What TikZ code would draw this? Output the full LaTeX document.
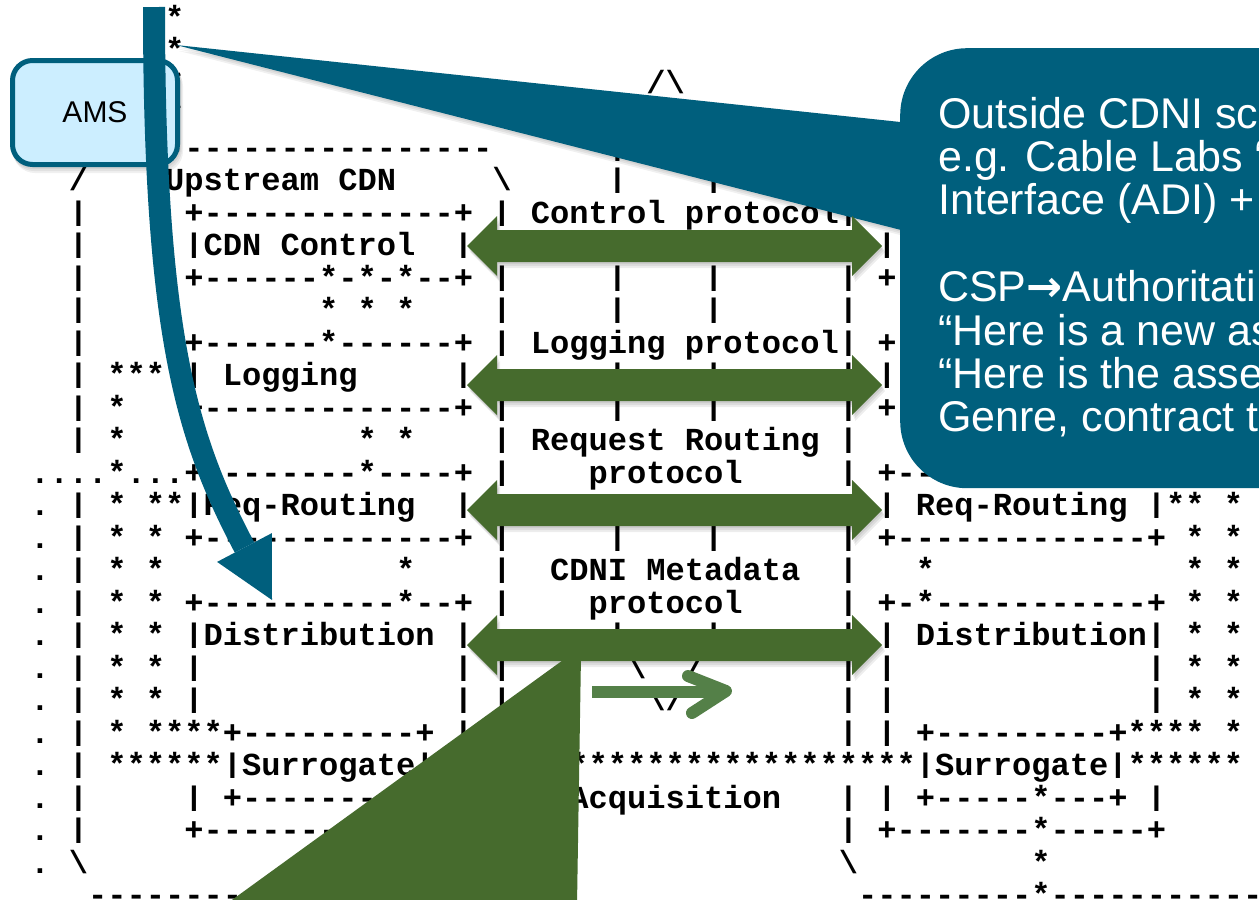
\documentclass[tikz,border=0pt]{standalone}
\usepackage{graphicx}
\usepackage{fontspec}
\setmainfont{Liberation Sans}
\setmonofont{Liberation Mono}
\newfontfamily\arrowfont{DejaVu Sans}
\definecolor{cblue}{RGB}{0,95,125}
\definecolor{cgreen}{RGB}{70,107,45}
\definecolor{lgreen}{RGB}{84,128,72}
\definecolor{amsfill}{RGB}{204,238,255}
\newcommand\bsl{\textbackslash}
\newcommand\VB{\raisebox{0.085em}{\scalebox{1}[0.84]{|}}}
\newcommand\AT[3]{\node[ascii] at ({30.375+19.25*(#1)},{28+32.5*(#2)}) {#3};}
\newcommand\garrow[2]{%
  \foreach \s in {1,2,3}{\fill[black,opacity=0.07,shift={(\s,2*\s)}] (467,#2) -- (497,{#2-30}) -- (497,{#2-16}) -- (852,{#2-16}) -- (852,{#2-30}) -- (882,#2) -- (852,{#2+30}) -- (852,{#2+16}) -- (497,{#2+16}) -- (497,{#2+30}) -- cycle;}
  \fill[cgreen] (467,#2) coordinate (#1-l) -- (497,{#2-30}) -- (497,{#2-16}) -- (852,{#2-16}) -- (852,{#2-30}) -- (882,#2) coordinate (#1-r) -- (852,{#2+30}) -- (852,{#2+16}) -- (497,{#2+16}) -- (497,{#2+30}) -- cycle;}
\tikzset{
  ascii/.style={font=\ttfamily\bfseries\fontsize{32.08}{32.5}\selectfont, anchor=base west, inner sep=0pt, outer sep=0pt, text=black},
  calltext/.style={font=\fontsize{43}{43.4}\selectfont, text=white, anchor=base west, inner sep=0pt},
  amsbox/.style={draw=cblue, line width=5pt, fill=amsfill, rounded corners=20pt, minimum width=165pt, minimum height=104pt, inner sep=0pt, font=\fontsize{30}{32}\selectfont, text=black},
}
\begin{document}
\begin{tikzpicture}[x=1pt,y=-1pt]
\useasboundingbox (0,0) rectangle (1259,900);
\begin{scope}
\clip (0,0) rectangle (1259,900);
\fill[white] (0,0) rectangle (1259,900);
% ---------------- ASCII art ----------------
\AT{7}{0}{*}
\AT{7}{1}{*}
\AT{7}{2}{*} \AT{32}{2}{/\bsl}
\AT{7}{3}{*} \AT{31}{3}{/} \AT{34}{3}{\bsl}
\AT{3}{4}{---------------------} \AT{30}{4}{\VB} \AT{35}{4}{\VB}
\AT{2}{5}{/} \AT{7}{5}{Upstream~CDN} \AT{24}{5}{\bsl} \AT{30}{5}{\VB} \AT{35}{5}{\VB}
\AT{2}{6}{\VB} \AT{8}{6}{+-------------+} \AT{24}{6}{\VB} \AT{26}{6}{Control~protocol} \AT{42}{6}{\VB} \AT{44}{6}{+-}
\AT{2}{7}{\VB} \AT{8}{7}{\VB{}CDN~Control~~\VB} \AT{44}{7}{\VB}
\AT{2}{8}{\VB} \AT{8}{8}{+------*-*-*--+} \AT{24}{8}{\VB} \AT{30}{8}{\VB} \AT{35}{8}{\VB} \AT{42}{8}{\VB} \AT{44}{8}{+-}
\AT{2}{9}{\VB} \AT{15}{9}{*~*~*} \AT{24}{9}{\VB} \AT{30}{9}{\VB} \AT{35}{9}{\VB} \AT{42}{9}{\VB}
\AT{2}{10}{\VB} \AT{8}{10}{+------*------+} \AT{24}{10}{\VB} \AT{26}{10}{Logging~protocol} \AT{42}{10}{\VB} \AT{44}{10}{+-}
\AT{2}{11}{\VB} \AT{4}{11}{***~\VB{}~Logging} \AT{22}{11}{\VB} \AT{30}{11}{\VB} \AT{35}{11}{\VB} \AT{42}{11}{\VB} \AT{44}{11}{\VB}
\AT{2}{12}{\VB} \AT{4}{12}{*} \AT{8}{12}{+-------------+} \AT{24}{12}{\VB} \AT{30}{12}{\VB} \AT{35}{12}{\VB} \AT{42}{12}{\VB} \AT{44}{12}{+-}
\AT{2}{13}{\VB} \AT{4}{13}{*} \AT{17}{13}{*~*} \AT{24}{13}{\VB} \AT{26}{13}{Request~Routing} \AT{42}{13}{\VB}
\AT{0}{14}{....*...+--------*----+} \AT{24}{14}{\VB} \AT{29}{14}{protocol} \AT{42}{14}{\VB} \AT{44}{14}{+--}
\AT{0}{15}{.} \AT{2}{15}{\VB} \AT{4}{15}{*~**\VB{}Req-Routing} \AT{22}{15}{\VB} \AT{44}{15}{\VB{}~Req-Routing~\VB{}**~*}
\AT{0}{16}{.} \AT{2}{16}{\VB} \AT{4}{16}{*~*~+-------------+} \AT{24}{16}{\VB} \AT{30}{16}{\VB} \AT{35}{16}{\VB} \AT{42}{16}{\VB} \AT{44}{16}{+-------------+~*~*}
\AT{0}{17}{.} \AT{2}{17}{\VB} \AT{4}{17}{*~*} \AT{19}{17}{*} \AT{24}{17}{\VB} \AT{27}{17}{CDNI~Metadata} \AT{42}{17}{\VB} \AT{46}{17}{*} \AT{60}{17}{*~*}
\AT{0}{18}{.} \AT{2}{18}{\VB} \AT{4}{18}{*~*~+----------*--+} \AT{24}{18}{\VB} \AT{29}{18}{protocol} \AT{42}{18}{\VB} \AT{44}{18}{+-*-----------+~*~*}
\AT{0}{19}{.} \AT{2}{19}{\VB} \AT{4}{19}{*~*~\VB{}Distribution~\VB} \AT{30}{19}{\VB} \AT{35}{19}{\VB} \AT{42}{19}{\VB} \AT{44}{19}{\VB{}~Distribution\VB{}~*~*}
\AT{0}{20}{.} \AT{2}{20}{\VB} \AT{4}{20}{*~*~\VB} \AT{22}{20}{\VB} \AT{24}{20}{\VB} \AT{31}{20}{\bsl} \AT{34}{20}{/} \AT{42}{20}{\VB} \AT{44}{20}{\VB} \AT{58}{20}{\VB{}~*~*}
\AT{0}{21}{.} \AT{2}{21}{\VB} \AT{4}{21}{*~*~\VB} \AT{22}{21}{\VB} \AT{24}{21}{\VB} \AT{32}{21}{\bsl/} \AT{42}{21}{\VB} \AT{44}{21}{\VB} \AT{58}{21}{\VB{}~*~*}
\AT{0}{22}{.} \AT{2}{22}{\VB} \AT{4}{22}{*~****+---------+} \AT{22}{22}{\VB} \AT{24}{22}{\VB} \AT{42}{22}{\VB} \AT{44}{22}{\VB{}~+---------+****~*}
\AT{0}{23}{.} \AT{2}{23}{\VB} \AT{4}{23}{******\VB{}Surrogate\VB{}*************************\VB{}Surrogate\VB{}******}
\AT{0}{24}{.} \AT{2}{24}{\VB} \AT{8}{24}{\VB{}~+---------+} \AT{22}{24}{\VB} \AT{24}{24}{\VB} \AT{28}{24}{Acquisition} \AT{42}{24}{\VB{}~\VB{}~+-----*---+~\VB}
\AT{0}{25}{.} \AT{2}{25}{\VB} \AT{8}{25}{+-------------+} \AT{24}{25}{\VB} \AT{42}{25}{\VB{}~+-------*-----+}
\AT{0}{26}{.} \AT{2}{26}{\bsl} \AT{24}{26}{/} \AT{42}{26}{\bsl} \AT{52}{26}{*}
\AT{3}{27}{---------------------} \AT{43}{27}{---------*-----------}
% ---------------- blue callout ----------------
\foreach \s in {1,2,3}{\fill[black,opacity=0.06,shift={(\s,2*\s)}] (176,45) -- (905,122.5) -- (905,231) -- cycle;}
\fill[cblue] (176,45) coordinate (ctip) -- (905,122.5) -- (905,231) -- cycle;
\node[fill=cblue, rounded corners=67pt, minimum width=430pt, minimum height=440pt, anchor=north west, inner sep=0pt] (callout) at (900,48) {};
\node[calltext] (t1) at (938,128) {Outside CDNI sc};
\node[calltext] (t2) at (938,171.4) {e.g. Cable Labs “};
\node[calltext] (t3) at (938,214.8) {Interface (ADI) +};
\node[calltext] (t5) at (938,301.6) {CSP{\arrowfont\bfseries →}Authoritati};
\node[calltext] (t6) at (938,345) {“Here is a new as};
\node[calltext] (t7) at (938,388.4) {“Here is the asse};
\node[calltext] (t8) at (938,431.8) {Genre, contract t};
% ---------------- green arrows ----------------
\garrow{ga}{246}
\garrow{gb}{385}
\garrow{gc}{510}
\garrow{gd}{645}
\fill[cgreen] (570,655) -- (581,655) -- (577,905) -- (225,905) -- cycle;
\coordinate (sa) at (592,692);
\coordinate (sb) at (722,692);
\draw[lgreen, line width=12pt] (sa) -- (sb);
\draw[lgreen, line width=12pt, line cap=round, line join=round] (688,676) -- (726,691) -- (692,713);
% ---------------- AMS box and blue arrow ----------------
\foreach \s in {1,2,3}{\fill[black,opacity=0.06,rounded corners=22pt] ({10+\s},{58+2*\s}) rectangle ({180+\s},{167+2*\s});}
\node[amsbox] (ams) at (95,112.5) {AMS};
\coordinate (bstart) at (154,7);
\coordinate (bend) at (244.5,547.5);
\draw[cblue, line width=22pt] (bstart) .. controls (154,340) and (188.6,441.4) .. (bend);
\fill[cblue] (217.1,561.9) -- (271.9,533.1) -- (272,600) -- cycle;
\end{scope}
\end{tikzpicture}
\end{document}
